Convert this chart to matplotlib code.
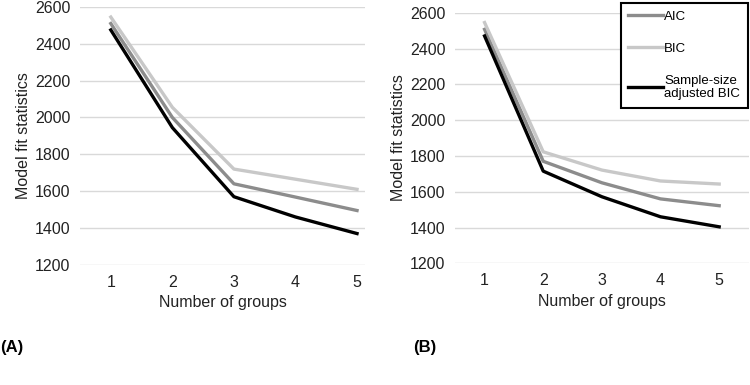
import matplotlib
matplotlib.use('Agg')
import matplotlib.pyplot as plt

plt.rcParams['font.family'] = ['Liberation Sans', 'DejaVu Sans']

groups = [1, 2, 3, 4, 5]

# panel A
aic_a = [2510, 2000, 1640, 1568, 1495]
bic_a = [2545, 2055, 1720, 1665, 1610]
sabic_a = [2475, 1945, 1570, 1460, 1370]

# panel B
aic_b = [2507, 1770, 1650, 1560, 1522]
bic_b = [2545, 1823, 1721, 1660, 1643]
sabic_b = [2470, 1715, 1572, 1460, 1404]

labels = ['AIC', 'BIC', 'Sample-size\nadjusted BIC']
colors = ['#8c8c8c', '#c8c8c8', '#000000']
yticks = [1200, 1400, 1600, 1800, 2000, 2200, 2400, 2600]

fig = plt.figure(figsize=(7.5, 3.85), dpi=100)
ax1 = fig.add_axes([0.1067, 0.312, 0.380, 0.670])
ax2 = fig.add_axes([0.607, 0.316, 0.391, 0.651])


def style(ax, xlim):
    for s in ax.spines.values():
        s.set_visible(False)
    ax.set_ylim(1200, 2600)
    ax.set_xlim(*xlim)
    ax.set_yticks(yticks)
    ax.set_xticks(groups)
    ax.yaxis.grid(True, color='#d9d9d9', linewidth=1)
    ax.set_axisbelow(True)
    ax.tick_params(length=0, labelsize=11.5, colors='#222222', pad=7)
    ax.set_xlabel('Number of groups', fontsize=11.5, color='#222222', labelpad=4)
    ax.set_ylabel('Model fit statistics', fontsize=11.5, color='#222222', labelpad=3)


for ax, data in [(ax1, (aic_a, bic_a, sabic_a)), (ax2, (aic_b, bic_b, sabic_b))]:
    for vals, lab, c in zip(data, labels, colors):
        ax.plot(groups, vals, color=c, linewidth=2.4, label=lab)

style(ax1, (0.5, 5.13))
style(ax2, (0.5, 5.5))

leg = ax2.legend(loc='upper right', bbox_to_anchor=(0.998, 1.04), fontsize=9.5,
                 fancybox=False, edgecolor='black', handlelength=2.6,
                 handletextpad=0.1, labelspacing=1.5, borderpad=0.6,
                 borderaxespad=0, framealpha=1)
leg.get_frame().set_linewidth(1.5)

fig.text(0.0, 0.085, '(A)', fontsize=12, fontweight='bold')
fig.text(0.551, 0.085, '(B)', fontsize=12, fontweight='bold')

fig.savefig('out.png', dpi=100)
